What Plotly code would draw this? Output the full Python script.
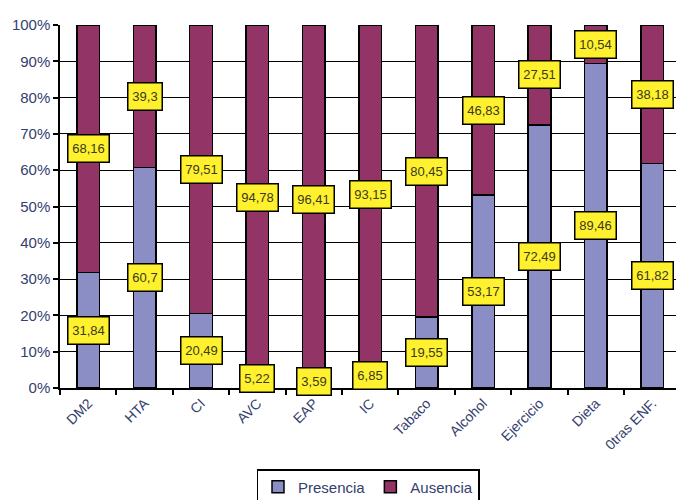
import plotly.graph_objects as go

# Categories and percentages for each factor
categorias = ["DM2", "HTA", "CI", "AVC", "EAP", "IC", "Tabaco", "Alcohol",
              "Ejercicio", "Dieta", "0tras ENF."]
presencia = [31.84, 60.7, 20.49, 5.22, 3.59, 6.85, 19.55, 53.17, 72.49, 89.46, 61.82]
ausencia = [68.16, 39.3, 79.51, 94.78, 96.41, 93.15, 80.45, 46.83, 27.51, 10.54, 38.18]
etiquetas_pres = ["31,84", "60,7", "20,49", "5,22", "3,59", "6,85", "19,55", "53,17",
                  "72,49", "89,46", "61,82"]
etiquetas_aus = ["68,16", "39,3", "79,51", "94,78", "96,41", "93,15", "80,45", "46,83",
                 "27,51", "10,54", "38,18"]

COL_PRES = "#8A8EC4"
COL_AUS = "#923566"
TXT = "#34406e"

fig = go.Figure()
fig.add_trace(go.Bar(x=categorias, y=presencia, name="Presencia", width=0.4,
                     marker=dict(color=COL_PRES, line=dict(color="black", width=1.5))))
fig.add_trace(go.Bar(x=categorias, y=ausencia, name="Ausencia", width=0.4,
                     marker=dict(color=COL_AUS, line=dict(color="black", width=1.5))))

# Yellow value boxes at the middle of each stacked segment
for cat, p, a, tp, ta in zip(categorias, presencia, ausencia, etiquetas_pres, etiquetas_aus):
    for yv, txt in ((p / 2, tp), (p + a / 2, ta)):
        fig.add_annotation(x=cat, y=yv, text=txt, showarrow=False,
                           font=dict(family="Liberation Sans, Arial", size=13, color="#3a3a1c"),
                           bgcolor="#FFF12E", bordercolor="black", borderwidth=1.5,
                           borderpad=2, width=7 * len(txt) + 1, height=22)

fig.update_layout(
    barmode="stack",
    width=676, height=500,
    margin=dict(l=60, r=0, t=25, b=112),
    plot_bgcolor="white", paper_bgcolor="white",
    font=dict(family="Liberation Sans, Arial", color=TXT),
    showlegend=True,
    legend=dict(orientation="h", x=0.5, xanchor="center",
                yref="container", y=0.062, yanchor="top",
                bordercolor="black", borderwidth=1.5, font=dict(size=15, color=TXT),
                traceorder="normal", tracegroupgap=0),
    bargap=0.6,
)
fig.update_xaxes(range=[-0.5, 10.42], showline=True, linecolor="black", linewidth=1.5,
                 ticks="outside", tickson="boundaries", ticklen=5, tickcolor="black",
                 tickwidth=1.5, tickangle=-45, tickfont=dict(size=14, color=TXT),
                 showgrid=False)
fig.update_yaxes(range=[0, 100], dtick=10, ticksuffix="%", showline=True,
                 linecolor="black", linewidth=1.5, ticks="outside", ticklen=5,
                 tickcolor="black", tickwidth=1.5, tickfont=dict(size=15, color=TXT),
                 showgrid=True, gridcolor="black", gridwidth=1.3, zeroline=False)

fig.write_html("out.html")
